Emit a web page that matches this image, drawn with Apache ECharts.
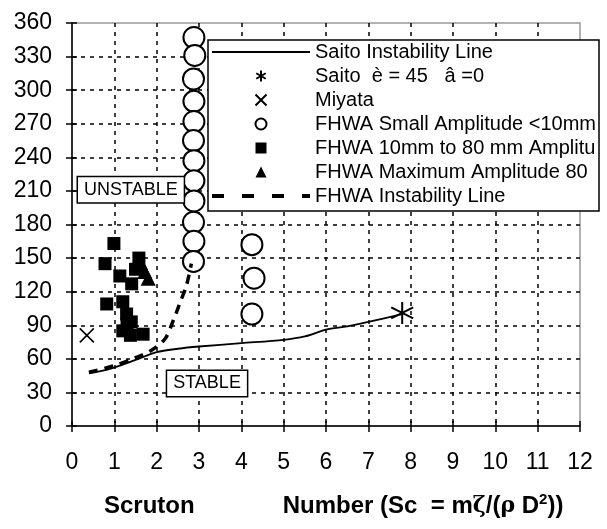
<!DOCTYPE html>
<html><head><meta charset="utf-8">
<script src="https://cdn.jsdelivr.net/npm/echarts@6/dist/echarts.min.js"></script>
<style>html,body{margin:0;padding:0;background:#fff}#c{width:607px;height:529px}</style>
</head><body><div id="c"></div>
<script>
// ---- data ----
const saitoLine = [[0.4,47],[0.9,51],[1.5,59],[2.0,66],[2.5,69],[3.0,71],[4.0,74],[5.0,77],[5.5,80],[6.0,86],[6.5,89],[7.0,93],[7.8,100]];
const saitoPoint = [[7.8,101]];
const miyata = [[0.35,81]];
const fhwaSmall = [[2.88,347],[2.9,331],[2.87,310],[2.88,290],[2.88,272],[2.87,255],[2.88,237],[2.88,219],[2.88,201],[2.87,182],[2.88,165],[2.87,147],[4.25,162],[4.3,132],[4.25,100]];
const fhwaMid = [[0.99,163],[0.78,145],[1.13,134],[1.41,127],[1.58,150],[1.5,140],[0.82,109],[1.2,111],[1.29,100],[1.4,93],[1.3,90],[1.2,85],[1.38,81],[1.68,82]];
const fhwaMax = [[1.62,146],[1.72,138],[1.8,132]];
const fhwaLine = [[0.4,48],[1.0,54],[1.5,61],[1.85,67],[2.2,78],[2.4,95],[2.55,110],[2.7,125],[2.82,145]];
const notes = [{name:'UNSTABLE', value:[1.39,211]},{name:'STABLE', value:[3.19,38]}];
const seriesNames = ['Saito Instability Line','Saito  è = 45   â =0','Miyata','FHWA Small Amplitude <10mm','FHWA 10mm to 80 mm Amplitude','FHWA Maximum Amplitude 80mm','FHWA Instability Line'];

const F = 'Liberation Sans, Arial, sans-serif';
const chart = echarts.init(document.getElementById('c'), null, {renderer:'canvas'});
const tickStyle = {color:'#000', width:1.5};
const strokeSym = {color:'rgba(0,0,0,0)', borderColor:'#000', borderWidth:2, opacity:1};
const blank = 'path://M0,0L1,0L1,1L0,1Z';
const blankStyle = {color:'rgba(0,0,0,0)', borderColor:'rgba(0,0,0,0)', borderWidth:0};
chart.setOption({
  backgroundColor:'#fff',
  animation:false,
  grid:{left:72, right:27, top:23, bottom:103, show:true, borderColor:'#999', borderWidth:1.5, backgroundColor:'rgba(0,0,0,0)'},
  title:{
    left:99, top:487,
    text:'{b|Scruton}{sp| }{b|Number (Sc  = m}{g|ζ}{b|/(}{g|ρ}{b| D}{sup|2}{b|))}',
    textStyle:{rich:{
      b:{fontFamily:F, fontWeight:'bold', fontSize:24, color:'#000', lineHeight:28},
      sp:{width:88, fontSize:24, lineHeight:28},
      g:{fontFamily:'DejaVu Serif', fontSize:22, color:'#000', lineHeight:28},
      sup:{fontFamily:F, fontWeight:'bold', fontSize:15, color:'#000', verticalAlign:'top', lineHeight:28}
    }}
  },
  legend:{
    data:[
      {name:seriesNames[0], itemStyle:blankStyle},
      {name:seriesNames[1]},
      {name:seriesNames[2]},
      {name:seriesNames[3]},
      {name:seriesNames[4]},
      {name:seriesNames[5]},
      {name:seriesNames[6], itemStyle:blankStyle, lineStyle:{width:4, type:[12,18], color:'#000'}}
    ],
    orient:'vertical', left:208, top:40,
    padding:[2,2,5,2], itemWidth:98, itemHeight:11, itemGap:4, symbolKeepAspect:true,
    backgroundColor:'#fff', borderColor:'#000', borderWidth:1.5, borderRadius:0,
    textStyle:{fontFamily:F, fontSize:20, lineHeight:20, color:'#000', width:282, overflow:'truncate', ellipsis:''},
    selectedMode:false, z:10
  },
  xAxis:[{
    type:'value', min:0, max:12, interval:1,
    axisLine:{show:true, onZero:false, lineStyle:tickStyle},
    axisTick:{show:true, length:6, lineStyle:tickStyle},
    axisLabel:{fontFamily:F, fontSize:23, color:'#000', margin:25},
    splitLine:{show:true, showMinLine:false, showMaxLine:false, lineStyle:{color:'#000', type:[4,5], width:1.5}}
  },{
    type:'value', min:0, max:12, interval:1, position:'bottom',
    axisLine:{show:false}, axisTick:{show:true, inside:true, length:5, lineStyle:tickStyle},
    axisLabel:{show:false}, splitLine:{show:false}
  }],
  yAxis:[{
    type:'value', min:0, max:360, interval:30,
    axisLine:{show:true, onZero:false, lineStyle:tickStyle},
    axisTick:{show:true, length:6, lineStyle:tickStyle},
    axisLabel:{fontFamily:F, fontSize:23, color:'#000', margin:20},
    splitLine:{show:true, showMinLine:false, showMaxLine:false, lineStyle:{color:'#000', type:[4,5], width:1.5}}
  },{
    type:'value', min:0, max:360, interval:30, position:'left',
    axisLine:{show:false}, axisTick:{show:true, inside:true, length:5, lineStyle:tickStyle},
    axisLabel:{show:false}, splitLine:{show:false}
  }],
  series:[
    {name:seriesNames[0], type:'line', data:saitoLine, symbol:blank, showSymbol:false, smooth:0.3,
     lineStyle:{color:'#000', width:1.8}, itemStyle:blankStyle, z:3},
    {name:seriesNames[1], type:'scatter', data:saitoPoint, symbol:'path://M5,0L5,10M0.7,2.5L9.3,7.5M9.3,2.5L0.7,7.5', symbolSize:22, itemStyle:strokeSym, z:4},
    {name:seriesNames[2], type:'scatter', data:miyata, symbol:'path://M0,0L10,10M10,0L0,10', symbolSize:14, itemStyle:{color:'rgba(0,0,0,0)', borderColor:'#000', borderWidth:1.6, opacity:1}, z:4},
    {name:seriesNames[3], type:'scatter', data:fhwaSmall, symbol:'circle', symbolSize:21, itemStyle:{color:'#fff', borderColor:'#000', borderWidth:2, opacity:1}, z:4},
    {name:seriesNames[4], type:'scatter', data:fhwaMid, symbol:'path://M0,0L10,0L10,10L0,10Z', symbolSize:13, itemStyle:{color:'#000', opacity:1}, z:4},
    {name:seriesNames[5], type:'scatter', data:fhwaMax, symbol:'path://M5,0L10,10L0,10Z', symbolSize:15, itemStyle:{color:'#000', opacity:1}, z:4},
    {name:seriesNames[6], type:'line', data:fhwaLine, symbol:blank, showSymbol:false, smooth:0.3,
     lineStyle:{color:'#000', width:3.5, type:[9,7]}, itemStyle:blankStyle, z:5},
    {name:'notes', type:'scatter', data:notes, symbolSize:0, silent:true, z:6, itemStyle:{opacity:1},
     label:{show:true, position:'inside', formatter:'{b}', fontFamily:F, fontSize:18, color:'#000',
            backgroundColor:'#fff', borderColor:'#000', borderWidth:1.5, padding:[4,6,3,6]}}
  ]
});
</script></body></html>
